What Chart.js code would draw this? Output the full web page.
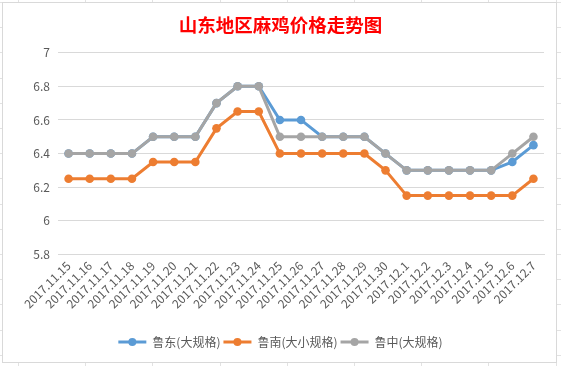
<!DOCTYPE html>
<html>
<head>
<meta charset="utf-8">
<script src="https://cdn.jsdelivr.net/npm/chart.js@4/dist/chart.umd.min.js"></script>
<style>
  html, body { margin: 0; padding: 0; width: 561px; height: 366px; overflow: hidden; background: #fff; }
  body {
    background-image:
      repeating-linear-gradient(to right, transparent 0, transparent 18px, #e2e2e2 18px, #e2e2e2 19px, transparent 19px, transparent 67.2px),
      repeating-linear-gradient(to bottom, transparent 0, transparent 2px, #e2e2e2 2px, #e2e2e2 3px, transparent 3px, transparent 25.2px);
  }
  #wrap { position: absolute; left: 2px; top: 2px; width: 555px; height: 361px; border: 1px solid #d9d9d9; background: #fff; box-sizing: border-box; }
  canvas { display: block; }
</style>
</head>
<body>
<div id="wrap"><canvas id="c" width="553" height="359"></canvas></div>
<script>
const categories = ["2017.11.15","2017.11.16","2017.11.17","2017.11.18","2017.11.19","2017.11.20","2017.11.21","2017.11.22","2017.11.23","2017.11.24","2017.11.25","2017.11.26","2017.11.27","2017.11.28","2017.11.29","2017.11.30","2017.12.1","2017.12.2","2017.12.3","2017.12.4","2017.12.5","2017.12.6","2017.12.7"];
const seriesNames = ["鲁东(大规格)", "鲁南(大小规格)", "鲁中(大规格)"];
const ludong   = [6.4,6.4,6.4,6.4,6.5,6.5,6.5,6.7,6.8,6.8,6.6,6.6,6.5,6.5,6.5,6.4,6.3,6.3,6.3,6.3,6.3,6.35,6.45];
const lunan    = [6.25,6.25,6.25,6.25,6.35,6.35,6.35,6.55,6.65,6.65,6.4,6.4,6.4,6.4,6.4,6.3,6.15,6.15,6.15,6.15,6.15,6.15,6.25];
const luzhong  = [6.4,6.4,6.4,6.4,6.5,6.5,6.5,6.7,6.8,6.8,6.5,6.5,6.5,6.5,6.5,6.4,6.3,6.3,6.3,6.3,6.3,6.4,6.5];
const yMin = 5.8, yMax = 7, yStep = 0.2;
const titleText = "山东地区麻鸡价格走势图";

const colors = ["#5B9BD5", "#ED7D31", "#A5A5A5"];
const FONT = "'Noto Sans CJK SC', 'Noto Sans', sans-serif";

function ds(label, data, color, order) {
  return {
    label, data, order,
    borderColor: color, backgroundColor: color,
    borderWidth: 3, pointRadius: 4.3, pointBorderWidth: 0,
    pointBackgroundColor: color, tension: 0, fill: false
  };
}

// move title & legend centre a little to the right, as in the reference
const SHIFT = 14;
const shiftBoxes = {
  id: 'shiftBoxes',
  afterLayout(chart) {
    if (chart.titleBlock) chart.titleBlock.left += SHIFT;
    if (chart.legend) {
      chart.legend.left += SHIFT;
      (chart.legend.legendHitBoxes || []).forEach(b => { b.left += SHIFT / 2; });
    }
  }
};

const legendDots = {
  id: 'legendDots',
  afterDraw(chart) {
    const lg = chart.legend;
    if (!lg || !lg.legendHitBoxes) return;
    const ctx = chart.ctx;
    lg.legendHitBoxes.forEach((b, i) => {
      const item = lg.legendItems[i];
      ctx.save();
      ctx.fillStyle = item.strokeStyle;
      ctx.beginPath();
      ctx.arc(b.left + lg.options.labels.boxWidth / 2, b.top + b.height / 2, 4, 0, Math.PI * 2);
      ctx.fill();
      ctx.restore();
    });
  }
};

new Chart(document.getElementById('c'), {
  type: 'line',
  data: {
    labels: categories,
    datasets: [
      ds(seriesNames[0], ludong, colors[0], 3),
      ds(seriesNames[1], lunan, colors[1], 2),
      ds(seriesNames[2], luzhong, colors[2], 1)
    ]
  },
  options: {
    responsive: false,
    animation: false,
    layout: { padding: { left: 0, right: 12, top: 6, bottom: 4 } },
    plugins: {
      title: {
        display: true, text: titleText, color: '#FF0000',
        font: { family: FONT, size: 18.5, weight: 'bold' },
        padding: { top: 5, bottom: 16.5 }
      },
      legend: {
        position: 'bottom',
        sort: (a, b) => a.datasetIndex - b.datasetIndex,
        labels: {
          boxWidth: 28, boxHeight: 3, padding: 3,
          color: '#595959',
          font: { family: FONT, size: 12 },
          generateLabels(chart) {
            return chart.data.datasets.map((d, i) => ({
              text: d.label, fillStyle: d.borderColor, strokeStyle: d.borderColor,
              lineWidth: 0, hidden: false, datasetIndex: i, fontColor: '#595959'
            }));
          }
        }
      },
      tooltip: { enabled: false }
    },
    scales: {
      x: {
        offset: true,
        afterFit(scale) { scale.height = scale.height + 18; },
        grid: { display: false, drawTicks: false },
        border: { display: true, color: '#d9d9d9' },
        ticks: {
          color: '#595959', font: { family: FONT, size: 12 },
          minRotation: 45, maxRotation: 45, autoSkip: false, padding: 4
        }
      },
      y: {
        min: yMin, max: yMax,
        afterFit(scale) { scale.width = 55; },
        grid: { color: '#d9d9d9', drawTicks: false },
        border: { display: false },
        ticks: {
          stepSize: yStep, color: '#595959', padding: 8,
          font: { family: FONT, size: 12 },
          callback: v => String(+(+v).toFixed(1))
        }
      }
    }
  },
  plugins: [shiftBoxes, legendDots]
});
</script>
</body>
</html>
